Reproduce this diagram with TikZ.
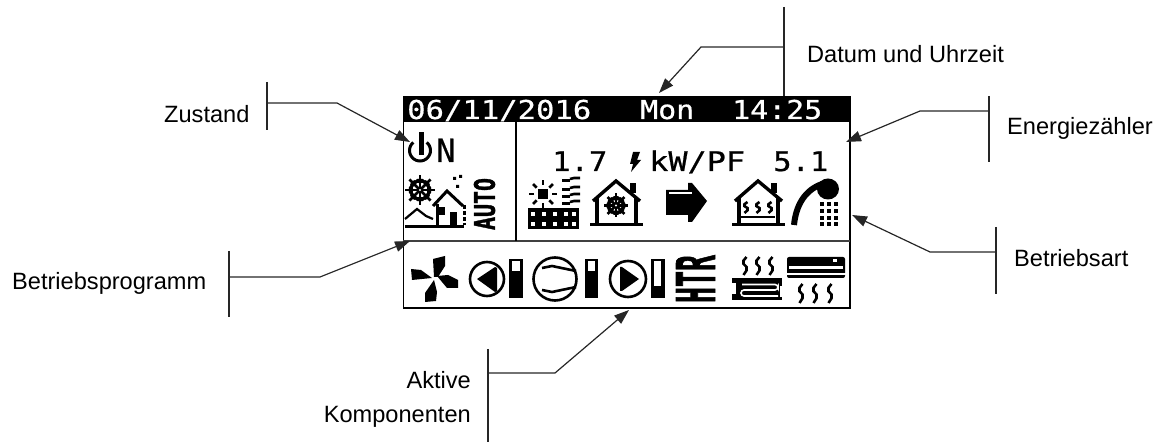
\documentclass[tikz,border=0pt]{standalone}
\usepackage{fontspec}
\setmainfont{Liberation Sans}
\newfontfamily\lcdfont[FakeBold=0.6]{DejaVu Sans Mono}
\newfontfamily\lcdheavy[BoldFeatures={FakeBold=1.5}]{DejaVu Sans Mono}
\usetikzlibrary{arrows.meta}
\newcommand{\wigg}[3]{% x, top y, height
  \draw[line width=2.6pt] (#1+1.5,#2) -- (#1-1.5,#2+#3*0.2) -- (#1-1.5,#2+#3*0.38) -- (#1+1.5,#2+#3*0.55) -- (#1+1.5,#2+#3*0.75) -- (#1-1.5,#2+#3);}
\newcommand{\flake}[3]{% x y r
  \foreach \a in {0,45,...,315}{
    \draw[line width=2.8pt] (#1,#2) -- +({#3*cos(\a)},{#3*sin(\a)});
    \fill ({#1+0.62*#3*cos(\a+12)},{#2+0.62*#3*sin(\a+12)}) circle (2.2pt);
    \fill ({#1+0.62*#3*cos(\a-12)},{#2+0.62*#3*sin(\a-12)}) circle (2.2pt);
  }
  \fill[white] (#1,#2) circle (1.2pt);}
\newcommand{\housebody}[2]{% peak x, chimney x
  \draw[line width=3.4pt,line join=miter] (#1-23,201) -- (#1,181) -- (#1+24,201);
  \draw[line width=3.2pt] (#1-19,198) -- (#1-19,224);
  \draw[line width=3.2pt] (#1+20,198) -- (#1+20,224);
  \draw[line width=3.8pt] (#1-26,224.5) -- (#1+27,224.5);
  \fill (#2-3,183) rectangle (#2+3,193);}
\tikzset{
  x=1pt,y=-1pt,
  label/.style={inner sep=0pt,font=\fontsize{23.6}{34}\selectfont,text=black},
  callout/.style={line width=1.2pt,black!85,-{Triangle[length=15pt,width=10.5pt]}},
  stem/.style={line width=1.3pt,black!85},
  lcdA/.style={inner sep=0pt,anchor=base west,font=\lcdfont\fontsize{26}{26}\selectfont},
  lcdB/.style={inner sep=0pt,anchor=base west,font=\lcdfont\fontsize{27}{27}\selectfont},
  border/.style={line width=1.8pt,black},
}
\begin{document}
\begin{tikzpicture}
\useasboundingbox (0,0) rectangle (1160,443);
% display frame
\fill[black] (403,96) rectangle (851,122);
\draw[border] (403.5,122) -- (403.5,308) -- (850,308) -- (850,96);
\draw[line width=1.7pt,black!75] (403,241) -- (850,241);
\draw[line width=1.4pt] (516,122) -- (516,241);
% header
\node[lcdA,text=white] (date) at (407,119) {\scalebox{1.176}[1]{06/11/2016}};
\node[lcdA,text=white] (dow) at (640,119) {\scalebox{1.15}[1]{Mon}};
\node[lcdA,text=white] (time) at (732,119) {\scalebox{1.15}[1]{14:25}};
% power symbol + N
\draw[line width=3pt] plot[smooth,domain=-50:230,samples=25] ({420+10.5*cos(\x)},{150.5+10.5*sin(\x)});
\fill (418.5,132) rectangle (424,155);
\node[inner sep=0pt,anchor=base west,font=\lcdfont\fontsize{32}{32}\selectfont] (onN) at (436,162) {N};
% operating-programme icon
\flake{420}{190}{15}
\fill (459,175) rectangle (462,178) (453,177) rectangle (456,180) (456,185) rectangle (459,188);
\draw[line width=3pt] (433,206) -- (447,191) -- (463,206);
\draw[line width=3pt] (437,204) -- (437,225);
\draw[line width=3pt,dash pattern=on 4pt off 2pt] (464,205) -- (464,225);
\fill (450,212) rectangle (457,226);
\fill (438,207) rectangle (445,215);
\draw[line width=2.2pt] (405,219) -- (417,209) -- (426,216) -- (433,219);
\fill (405,225) rectangle (464,228.5);
\node[inner sep=0pt,rotate=90,font=\lcdheavy\bfseries] (auto) at (484.5,204) {\resizebox{52pt}{21pt}{AUTO}};
% readings
\node[lcdB] (cop1) at (552,171) {\scalebox{1.13}[1]{1.7}};
\fill (633,152) -- (640,152) -- (637,160) -- (641,160) -- (631,172) -- (633,164) -- (630,164) -- cycle;
\node[lcdB] (unit) at (649,171) {\scalebox{1.18}[1]{kW/PF}};
\node[lcdB] (cop2) at (773,171) {\scalebox{1.13}[1]{5.1}};
% sun/wave panel
\fill (538,189) rectangle (548,199);
\foreach \a in {0,45,...,315}{\draw[line width=2.8pt] ({543+9*cos(\a)},{194+9*sin(\a)}) -- ({543+14*cos(\a)},{194+14*sin(\a)});}
\foreach \yy in {179,188,195,202}{
  \draw[line width=2.6pt] (562,\yy+1.5) -- (570,\yy+1.5);
  \draw[line width=2.6pt] (570,\yy) -- (574,\yy-1) -- (580,\yy-1);
}
\fill (528,208) rectangle (579,229);
\foreach \cx in {533,544,555,566,574}{\foreach \cy in {214,224}{\fill[white] (\cx-1.8,\cy-2.2) rectangle (\cx+1.8,\cy+2.2);}}
% house with snowflake
\housebody{616}{633}
\flake{616}{205.5}{12}
% arrow
\fill (666,190) -- (688,190) -- (688,183) -- (692,183) -- (707,201) -- (692,222) -- (688,222) -- (688,215) -- (666,215) -- cycle;
\draw[white,line width=1.2pt] (669,193) -- (692,193);
% house with heat
\housebody{758}{774}
\draw[line width=2.6pt] (741,217) -- (775,217);
\foreach \xx in {746,758,770}{\wigg{\xx}{202}{11}}
% shower
\draw[line width=6pt] (794,225) .. controls (796,205) and (805,190) .. (822,184);
\fill (828,189) ellipse[x radius=11,y radius=10.5];
\foreach \cx in {822,829,836}{\foreach \cy in {204,211,218,224}{\fill (\cx-1.7,\cy-2.2) rectangle (\cx+1.7,\cy+1.8);}}
% fan
\fill (434,277) -- (433,259) -- (445,256) -- (445,266) -- (438,277) -- cycle;
\fill (437,276) -- (448,275) -- (458,280) -- (458,288) -- (447,288) -- cycle;
\fill (434,280) -- (437,292) -- (436,301) -- (425,302) -- (425,293) -- cycle;
\fill (432,278) -- (412,280) -- (411,269) -- (421,270) -- cycle;
% pump, left
\draw[line width=2.6pt] (487,279) circle (17pt);
\fill (477,279) -- (495,267) -- (497,268) -- (497,291) -- (495,292) -- cycle;
\fill (509,259) rectangle (523,298);
\fill[white] (512,261) rectangle (520,271);
% compressor
\draw[line width=2.6pt] (555,279) circle (21.5pt);
\draw[line width=2.6pt] (542,268) -- (552,266) -- (576,271);
\draw[line width=2.6pt] (542,290) -- (552,292) -- (576,287);
\fill (585,259) rectangle (598,298);
\fill[white] (588,261) rectangle (595,271);
% pump, right
\draw[line width=2.6pt] (628,279) circle (18pt);
\fill (620,267) -- (622,267) -- (639,279) -- (622,291) -- (620,291) -- cycle;
\fill (651,259) rectangle (665,298);
\fill[white] (654,261) rectangle (661,286);
% HTR
\node[inner sep=0pt,rotate=90,font=\lcdheavy\bfseries] (htr) at (695.5,279) {\resizebox{48pt}{39pt}{HTR}};
% floor heating
\foreach \xx in {745,758,771}{\wigg{\xx}{257}{18}}
\fill (732,278) rectangle (782,300);
\fill[white] (732,283) rectangle (738,294);
\fill (736,283) rectangle (740,296);
\draw[white,line width=1.6pt,rounded corners=3pt] (742,284.5) -- (778,284.5) -- (778,290) -- (741,290) -- (741,296) -- (778,296);
\fill[white] (780,286) rectangle (783,298);
\fill (780,297) rectangle (782,300);
% air conditioner
\fill[rounded corners=2pt] (787,257) rectangle (845,278);
\fill[white] (833,259.5) rectangle (837,262.5);
\draw[white,line width=2.2pt] (789,267.5) -- (843,267.5);
\draw[white,line width=1.8pt] (786,274) -- (846,274);
\foreach \xx in {801,815,830}{\wigg{\xx}{284}{19}}
% labels
\node[label,anchor=base west] (lblDatum) at (807,63) {Datum und Uhrzeit};
\node[label,anchor=base west] (lblZustand) at (164,123) {Zustand};
\node[label,anchor=base west] (lblEnergie) at (1007,135) {Energiezähler};
\node[label,anchor=base west] (lblProg) at (12,290) {Betriebsprogramm};
\node[label,anchor=base west] (lblArt) at (1014,267) {Betriebsart};
\node[label,anchor=east,align=right] (lblAktiv) at (471,399) {Aktive\\Komponenten};
% leader stems
\coordinate (datT) at (784,7); \coordinate (datB) at (784,96);
\coordinate (zusT) at (267,82); \coordinate (zusB) at (267,130);
\coordinate (eneT) at (989,96); \coordinate (eneB) at (989,162);
\coordinate (proT) at (229,251); \coordinate (proB) at (229,317);
\coordinate (artT) at (996,227); \coordinate (artB) at (996,294);
\coordinate (aktT) at (488,349); \coordinate (aktB) at (488,442);
\foreach \p/\q in {datT/datB,zusT/zusB,eneT/eneB,proT/proB,artT/artB,aktT/aktB}{\draw[stem] (\p) -- (\q);}
% callouts
\coordinate (datJ) at (784,47); \coordinate (datK) at (701,47); \coordinate (datTip) at (659,93);
\coordinate (zusJ) at (267,103); \coordinate (zusK) at (337,103); \coordinate (zusTip) at (410,142);
\coordinate (eneJ) at (989,111); \coordinate (eneK) at (920,111); \coordinate (eneTip) at (846,142);
\coordinate (proJ) at (229,277); \coordinate (proK) at (320,277); \coordinate (proTip) at (410,241);
\coordinate (artJ) at (996,252); \coordinate (artK) at (930,252); \coordinate (artTip) at (852,215);
\coordinate (aktJ) at (488,373); \coordinate (aktK) at (555,373); \coordinate (aktTip) at (629,310);
\foreach \p/\q/\r in {datJ/datK/datTip,zusJ/zusK/zusTip,eneJ/eneK/eneTip,proJ/proK/proTip,artJ/artK/artTip,aktJ/aktK/aktTip}{\draw[callout] (\p) -- (\q) -- (\r);}
\end{tikzpicture}
\end{document}
